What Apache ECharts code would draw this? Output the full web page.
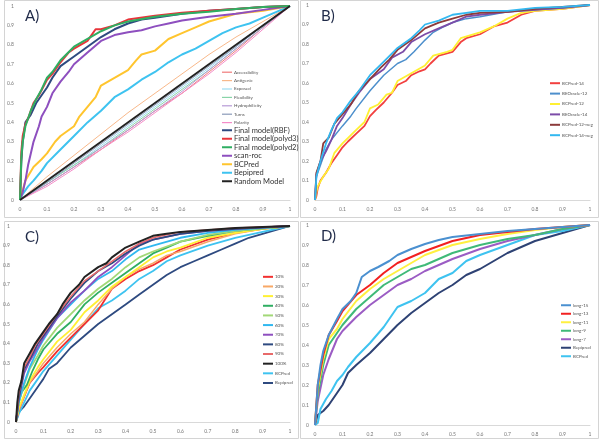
<!DOCTYPE html>
<html><head><meta charset="utf-8">
<script src="https://cdn.jsdelivr.net/npm/echarts@6/dist/echarts.min.js"></script>
<style>html,body{margin:0;padding:0;background:#fff}#c{width:600px;height:441px}</style>
</head><body><div id="c"></div>
<script>
// ---- Panel A ----
const a_acc=[[0,0],[0.1,0.08],[0.2,0.17],[0.3,0.26],[0.4,0.36],[0.5,0.46],[0.6,0.55],[0.7,0.66],[0.8,0.77],[0.9,0.89],[1,1]];
const a_ant=[[0,0],[0.1,0.12],[0.2,0.23],[0.3,0.34],[0.4,0.45],[0.5,0.55],[0.6,0.65],[0.7,0.75],[0.8,0.84],[0.9,0.92],[1,1]];
const a_exp=[[0,0],[0.1,0.09],[0.2,0.18],[0.3,0.28],[0.4,0.38],[0.5,0.48],[0.6,0.58],[0.7,0.68],[0.8,0.79],[0.9,0.9],[1,1]];
const a_flex=[[0,0],[0.1,0.09],[0.2,0.18],[0.3,0.27],[0.4,0.37],[0.5,0.47],[0.6,0.57],[0.7,0.67],[0.8,0.78],[0.9,0.89],[1,1]];
const a_hyd=[[0,0],[0.1,0.08],[0.2,0.17],[0.3,0.27],[0.4,0.36],[0.5,0.46],[0.6,0.56],[0.7,0.67],[0.8,0.78],[0.9,0.89],[1,1]];
const a_turn=[[0,0],[0.1,0.09],[0.2,0.19],[0.3,0.29],[0.4,0.39],[0.5,0.49],[0.6,0.59],[0.7,0.69],[0.8,0.79],[0.9,0.9],[1,1]];
const a_pol=[[0,0],[0.1,0.07],[0.2,0.16],[0.3,0.26],[0.4,0.35],[0.5,0.45],[0.6,0.55],[0.7,0.65],[0.8,0.76],[0.9,0.88],[1,1]];
const a_rbf=[[0,0],[0.005,0.2],[0.01,0.3],[0.02,0.4],[0.04,0.44],[0.06,0.5],[0.08,0.54],[0.1,0.58],[0.12,0.63],[0.15,0.69],[0.2,0.74],[0.25,0.79],[0.3,0.84],[0.35,0.88],[0.4,0.91],[0.45,0.93],[0.5,0.94],[0.6,0.96],[0.7,0.975],[0.8,0.985],[0.9,0.995],[1,1]];
const a_p3=[[0,0],[0.005,0.25],[0.01,0.33],[0.02,0.39],[0.03,0.42],[0.05,0.5],[0.07,0.54],[0.1,0.62],[0.12,0.65],[0.15,0.71],[0.18,0.76],[0.2,0.78],[0.25,0.82],[0.28,0.88],[0.3,0.88],[0.35,0.9],[0.4,0.93],[0.5,0.95],[0.6,0.965],[0.7,0.975],[0.8,0.985],[0.9,0.995],[1,1]];
const a_p2=[[0,0],[0.005,0.22],[0.01,0.3],[0.02,0.38],[0.04,0.46],[0.06,0.52],[0.08,0.57],[0.1,0.63],[0.12,0.66],[0.15,0.72],[0.2,0.79],[0.25,0.83],[0.3,0.87],[0.35,0.9],[0.4,0.92],[0.5,0.945],[0.6,0.96],[0.7,0.97],[0.8,0.985],[0.9,0.995],[1,1]];
const a_scan=[[0,0],[0.01,0.04],[0.02,0.1],[0.03,0.18],[0.04,0.24],[0.05,0.3],[0.07,0.38],[0.08,0.43],[0.1,0.48],[0.12,0.55],[0.15,0.61],[0.18,0.66],[0.2,0.7],[0.25,0.76],[0.3,0.82],[0.35,0.85],[0.4,0.865],[0.45,0.875],[0.5,0.895],[0.55,0.91],[0.6,0.925],[0.7,0.945],[0.8,0.96],[0.9,0.98],[1,1]];
const a_bcp=[[0,0],[0.01,0.05],[0.02,0.1],[0.05,0.17],[0.08,0.21],[0.1,0.24],[0.13,0.3],[0.15,0.33],[0.2,0.38],[0.22,0.43],[0.25,0.48],[0.28,0.53],[0.3,0.59],[0.35,0.63],[0.4,0.67],[0.43,0.72],[0.45,0.75],[0.5,0.77],[0.55,0.83],[0.6,0.86],[0.65,0.89],[0.7,0.92],[0.8,0.96],[0.9,0.975],[1,1]];
const a_bepi=[[0,0],[0.01,0.03],[0.03,0.07],[0.05,0.1],[0.08,0.15],[0.1,0.19],[0.15,0.26],[0.2,0.33],[0.25,0.4],[0.3,0.46],[0.35,0.53],[0.4,0.57],[0.45,0.62],[0.5,0.66],[0.55,0.71],[0.6,0.75],[0.65,0.78],[0.7,0.82],[0.75,0.86],[0.8,0.89],[0.85,0.91],[0.9,0.94],[0.95,0.97],[1,1]];
const a_rand=[[0,0],[1,1]];
// ---- Panel B ----
const b_bcp14=[[0,0],[0.005,0.02],[0.01,0.06],[0.02,0.1],[0.04,0.14],[0.06,0.19],[0.08,0.23],[0.1,0.27],[0.12,0.3],[0.15,0.34],[0.18,0.38],[0.2,0.43],[0.22,0.46],[0.25,0.5],[0.28,0.55],[0.3,0.59],[0.33,0.61],[0.35,0.64],[0.38,0.66],[0.4,0.67],[0.42,0.7],[0.45,0.74],[0.5,0.76],[0.53,0.81],[0.55,0.83],[0.6,0.85],[0.65,0.89],[0.7,0.91],[0.75,0.95],[0.8,0.97],[0.9,0.98],[1,1]];
const b_beo12=[[0,0],[0.005,0.12],[0.02,0.18],[0.04,0.26],[0.06,0.31],[0.1,0.38],[0.13,0.43],[0.15,0.47],[0.2,0.56],[0.25,0.64],[0.3,0.7],[0.33,0.72],[0.36,0.76],[0.4,0.82],[0.43,0.86],[0.47,0.89],[0.5,0.91],[0.55,0.93],[0.6,0.94],[0.7,0.965],[0.8,0.975],[0.9,0.985],[1,1]];
const b_bcp12=[[0,0],[0.005,0.04],[0.01,0.07],[0.03,0.12],[0.05,0.16],[0.07,0.24],[0.1,0.29],[0.15,0.36],[0.18,0.4],[0.2,0.47],[0.23,0.49],[0.26,0.54],[0.28,0.55],[0.3,0.61],[0.35,0.65],[0.4,0.69],[0.43,0.74],[0.48,0.76],[0.5,0.77],[0.53,0.83],[0.6,0.86],[0.65,0.89],[0.7,0.93],[0.75,0.96],[0.8,0.97],[0.9,0.98],[1,1]];
const b_beo14=[[0,0],[0.005,0.13],[0.02,0.2],[0.04,0.25],[0.06,0.31],[0.08,0.38],[0.1,0.42],[0.13,0.49],[0.16,0.55],[0.2,0.62],[0.25,0.67],[0.28,0.73],[0.32,0.76],[0.35,0.81],[0.4,0.85],[0.45,0.88],[0.5,0.91],[0.55,0.94],[0.6,0.95],[0.7,0.965],[0.8,0.975],[0.9,0.985],[1,1]];
const b_bcp12n=[[0,0],[0.005,0.14],[0.02,0.2],[0.03,0.29],[0.05,0.32],[0.07,0.39],[0.1,0.44],[0.13,0.49],[0.16,0.56],[0.2,0.62],[0.24,0.68],[0.27,0.72],[0.3,0.77],[0.35,0.82],[0.4,0.88],[0.45,0.91],[0.5,0.93],[0.55,0.95],[0.6,0.96],[0.7,0.965],[0.8,0.98],[0.9,0.99],[1,1]];
const b_bcp14n=[[0,0],[0.005,0.12],[0.02,0.2],[0.04,0.29],[0.06,0.36],[0.08,0.42],[0.1,0.45],[0.13,0.51],[0.16,0.56],[0.2,0.64],[0.25,0.71],[0.3,0.78],[0.35,0.83],[0.38,0.87],[0.4,0.9],[0.45,0.92],[0.5,0.95],[0.55,0.96],[0.6,0.97],[0.7,0.97],[0.8,0.985],[0.9,0.99],[1,1]];
// ---- Panel C ----
const c_10=[[0,0],[0.01,0.06],[0.03,0.13],[0.05,0.2],[0.08,0.25],[0.1,0.28],[0.15,0.36],[0.2,0.43],[0.25,0.5],[0.3,0.57],[0.35,0.68],[0.4,0.73],[0.45,0.77],[0.5,0.8],[0.55,0.84],[0.6,0.88],[0.7,0.93],[0.8,0.965],[0.9,0.985],[1,1]];
const c_20=[[0,0],[0.01,0.06],[0.03,0.13],[0.05,0.2],[0.08,0.26],[0.1,0.3],[0.15,0.38],[0.2,0.45],[0.25,0.51],[0.3,0.6],[0.35,0.68],[0.4,0.74],[0.45,0.78],[0.5,0.81],[0.55,0.85],[0.6,0.87],[0.7,0.92],[0.8,0.96],[0.9,0.985],[1,1]];
const c_30=[[0,0],[0.01,0.07],[0.03,0.14],[0.05,0.21],[0.08,0.28],[0.1,0.32],[0.15,0.41],[0.2,0.47],[0.25,0.56],[0.3,0.62],[0.35,0.69],[0.4,0.74],[0.45,0.79],[0.5,0.84],[0.55,0.87],[0.6,0.89],[0.7,0.94],[0.8,0.965],[0.9,0.985],[1,1]];
const c_40=[[0,0],[0.01,0.1],[0.02,0.15],[0.04,0.19],[0.06,0.26],[0.08,0.32],[0.1,0.37],[0.15,0.45],[0.2,0.51],[0.25,0.6],[0.3,0.66],[0.35,0.71],[0.4,0.76],[0.45,0.81],[0.5,0.86],[0.55,0.89],[0.6,0.92],[0.7,0.95],[0.8,0.975],[1,1]];
const c_50=[[0,0],[0.01,0.1],[0.03,0.19],[0.05,0.27],[0.08,0.34],[0.1,0.39],[0.15,0.48],[0.2,0.55],[0.25,0.62],[0.3,0.68],[0.35,0.73],[0.4,0.79],[0.45,0.84],[0.5,0.87],[0.6,0.92],[0.7,0.955],[0.8,0.975],[1,1]];
const c_60=[[0,0],[0.01,0.1],[0.03,0.2],[0.05,0.28],[0.08,0.37],[0.1,0.42],[0.15,0.53],[0.2,0.6],[0.25,0.67],[0.3,0.73],[0.35,0.77],[0.4,0.83],[0.45,0.88],[0.5,0.9],[0.6,0.94],[0.7,0.965],[0.8,0.98],[1,1]];
const c_70=[[0,0],[0.01,0.12],[0.03,0.25],[0.05,0.31],[0.08,0.38],[0.1,0.43],[0.15,0.53],[0.2,0.61],[0.25,0.67],[0.3,0.74],[0.35,0.79],[0.4,0.85],[0.45,0.91],[0.5,0.93],[0.6,0.96],[0.7,0.975],[0.8,0.985],[1,1]];
const c_80=[[0,0],[0.01,0.12],[0.03,0.27],[0.05,0.32],[0.08,0.4],[0.1,0.44],[0.15,0.54],[0.2,0.63],[0.25,0.71],[0.3,0.77],[0.35,0.81],[0.4,0.86],[0.45,0.9],[0.5,0.93],[0.6,0.96],[0.7,0.975],[0.8,0.985],[1,1]];
const c_90=[[0,0],[0.01,0.14],[0.03,0.28],[0.05,0.33],[0.07,0.39],[0.1,0.45],[0.13,0.51],[0.15,0.55],[0.2,0.64],[0.25,0.72],[0.3,0.77],[0.35,0.82],[0.4,0.87],[0.45,0.91],[0.5,0.94],[0.6,0.97],[0.7,0.98],[0.8,0.99],[1,1]];
const c_100=[[0,0],[0.005,0.1],[0.01,0.16],[0.02,0.21],[0.03,0.3],[0.05,0.35],[0.07,0.4],[0.1,0.46],[0.12,0.5],[0.15,0.55],[0.17,0.6],[0.2,0.66],[0.23,0.7],[0.25,0.74],[0.3,0.79],[0.33,0.81],[0.35,0.84],[0.4,0.89],[0.45,0.92],[0.5,0.95],[0.55,0.96],[0.6,0.97],[0.7,0.98],[0.8,0.99],[0.9,0.995],[1,1]];
const c_bcp=[[0,0],[0.01,0.04],[0.03,0.1],[0.05,0.16],[0.08,0.22],[0.1,0.26],[0.15,0.34],[0.2,0.42],[0.25,0.5],[0.3,0.58],[0.35,0.62],[0.4,0.67],[0.45,0.73],[0.5,0.77],[0.55,0.82],[0.6,0.85],[0.7,0.9],[0.8,0.94],[0.9,0.97],[1,1]];
const c_bepi=[[0,0],[0.01,0.05],[0.03,0.08],[0.05,0.12],[0.08,0.18],[0.1,0.22],[0.12,0.27],[0.15,0.3],[0.2,0.38],[0.25,0.44],[0.3,0.5],[0.35,0.55],[0.4,0.6],[0.45,0.65],[0.5,0.7],[0.55,0.75],[0.6,0.79],[0.65,0.82],[0.7,0.85],[0.75,0.88],[0.8,0.91],[0.85,0.94],[0.9,0.96],[0.95,0.98],[1,1]];
// ---- Panel D ----
const d_15=[[0,0],[0.005,0.1],[0.01,0.2],[0.02,0.3],[0.03,0.37],[0.05,0.45],[0.08,0.53],[0.1,0.58],[0.13,0.62],[0.15,0.66],[0.17,0.74],[0.2,0.77],[0.23,0.79],[0.27,0.82],[0.3,0.85],[0.35,0.88],[0.4,0.905],[0.45,0.925],[0.5,0.94],[0.6,0.955],[0.7,0.97],[0.8,0.98],[0.9,0.99],[1,1]];
const d_13=[[0,0],[0.005,0.1],[0.01,0.2],[0.03,0.35],[0.05,0.45],[0.08,0.52],[0.1,0.57],[0.15,0.65],[0.2,0.7],[0.25,0.76],[0.3,0.81],[0.35,0.84],[0.4,0.87],[0.45,0.895],[0.5,0.92],[0.6,0.95],[0.7,0.965],[0.8,0.98],[0.9,0.99],[1,1]];
const d_11=[[0,0],[0.005,0.1],[0.01,0.18],[0.03,0.33],[0.05,0.43],[0.08,0.48],[0.1,0.53],[0.15,0.62],[0.2,0.68],[0.25,0.73],[0.3,0.77],[0.35,0.81],[0.4,0.85],[0.45,0.875],[0.5,0.9],[0.6,0.93],[0.7,0.955],[0.8,0.975],[0.9,0.99],[1,1]];
const d_9=[[0,0],[0.005,0.08],[0.01,0.15],[0.03,0.3],[0.05,0.4],[0.08,0.46],[0.1,0.5],[0.15,0.58],[0.2,0.64],[0.25,0.7],[0.3,0.74],[0.35,0.78],[0.4,0.8],[0.45,0.83],[0.5,0.86],[0.6,0.9],[0.7,0.93],[0.8,0.95],[0.9,0.98],[1,1]];
const d_7=[[0,0],[0.005,0.06],[0.01,0.12],[0.03,0.25],[0.05,0.33],[0.08,0.43],[0.1,0.47],[0.15,0.54],[0.2,0.6],[0.25,0.65],[0.3,0.7],[0.35,0.73],[0.4,0.77],[0.45,0.8],[0.5,0.83],[0.6,0.88],[0.7,0.92],[0.8,0.95],[0.9,0.98],[1,1]];
const d_bepi=[[0,0],[0.01,0.05],[0.03,0.07],[0.05,0.1],[0.08,0.16],[0.1,0.2],[0.12,0.26],[0.15,0.3],[0.2,0.36],[0.25,0.43],[0.3,0.5],[0.35,0.56],[0.4,0.61],[0.45,0.66],[0.5,0.7],[0.55,0.75],[0.6,0.78],[0.65,0.82],[0.7,0.86],[0.75,0.89],[0.8,0.92],[0.85,0.94],[0.9,0.96],[0.95,0.98],[1,1]];
const d_bcp=[[0,0],[0.01,0.01],[0.02,0.08],[0.04,0.13],[0.06,0.17],[0.08,0.22],[0.1,0.25],[0.12,0.29],[0.15,0.34],[0.2,0.41],[0.25,0.49],[0.3,0.59],[0.35,0.62],[0.4,0.66],[0.45,0.73],[0.5,0.76],[0.55,0.82],[0.6,0.85],[0.7,0.9],[0.8,0.95],[0.9,0.97],[1,1]];

const axisTicks=[0,0.1,0.2,0.3,0.4,0.5,0.6,0.7,0.8,0.9,1];

const panels=[
 {key:'A',grid:{left:20,top:6,width:270,height:194}},
 {key:'B',grid:{left:315,top:5,width:275,height:195}},
 {key:'C',grid:{left:15,top:226,width:275,height:196}},
 {key:'D',grid:{left:315,top:225,width:275,height:200}}
];
// [panel, name, data, color, width]
const defs=[
 [0,'Accessibility',a_acc,'#f07a7a',1],
 [0,'Antigenic',a_ant,'#f8b88a',1],
 [0,'Exposed',a_exp,'#9cdcf2',1],
 [0,'Flexibility',a_flex,'#88d4a8',1],
 [0,'Hydrophilicity',a_hyd,'#b79ad6',1],
 [0,'Turns',a_turn,'#8a9ab8',1],
 [0,'Polarity',a_pol,'#f48cc8',1],
 [0,'Bepipred',a_bepi,'#3ec3f0',2],
 [0,'BCPred',a_bcp,'#ffc52e',2],
 [0,'scan-roc',a_scan,'#8e4fbf',2],
 [0,'Final model(RBF)',a_rbf,'#2e4a80',2],
 [0,'Final model(polyd3)',a_p3,'#e8343a',2],
 [0,'Final model(polyd2)',a_p2,'#2fae62',2],
 [0,'Random Model',a_rand,'#222222',2],
 [1,'BCPred-14',b_bcp14,'#f2403f',1.8],
 [1,'BCPred-12',b_bcp12,'#fff033',1.8],
 [1,'BEOracle-12',b_beo12,'#4d8fcc',1.5],
 [1,'BEOracle-14',b_beo14,'#7c4ca8',1.8],
 [1,'BCPred-12-neg',b_bcp12n,'#8c3b3b',1.8],
 [1,'BCPred-14-neg',b_bcp14n,'#33b8f0',1.8],
 [2,'Bepipred',c_bepi,'#2e4a80',1.8],
 [2,'BCPred',c_bcp,'#3ec3f0',1.8],
 [2,'10%',c_10,'#f2302f',1.8],
 [2,'20%',c_20,'#f8a866',1.5],
 [2,'30%',c_30,'#fff033',1.8],
 [2,'40%',c_40,'#2fae62',1.8],
 [2,'50%',c_50,'#a2d877',1.8],
 [2,'60%',c_60,'#30b8f0',1.8],
 [2,'70%',c_70,'#8e4fbf',1.8],
 [2,'80%',c_80,'#2e4a80',1.8],
 [2,'90%',c_90,'#e86a6a',1.5],
 [2,'100%',c_100,'#222222',2],
 [3,'Bepipred',d_bepi,'#2e4274',2],
 [3,'BCPred',d_bcp,'#3ec3f0',2],
 [3,'long-7',d_7,'#9b5cc4',2],
 [3,'long-9',d_9,'#3fba78',2],
 [3,'long-11',d_11,'#fff040',2],
 [3,'long-13',d_13,'#f22020',2],
 [3,'long-15',d_15,'#4a90d0',2]
];
const series=defs.map(d=>({
 name:panels[d[0]].key+':'+d[1],type:'line',xAxisIndex:d[0],yAxisIndex:d[0],data:d[2],
 showSymbol:false,symbol:'none',animation:false,
 lineStyle:{color:d[3],width:d[4]},itemStyle:{color:d[3]}
}));
const fmt=n=>n.slice(2);
const lg=(key,names,left,top,lh,fs,ih,col,iw)=>({
 orient:'vertical',left:left,top:top,padding:0,itemGap:0,itemWidth:iw||10,itemHeight:ih,icon:'rect',
 data:names.map(n=>key+':'+n),formatter:fmt,selectedMode:false,
 textStyle:{fontSize:fs,lineHeight:lh,color:col,fontFamily:'Lato',padding:[0,0,0,-3]}
});
const legends=[
 lg('A',['Accessibility','Antigenic','Exposed','Flexibility','Hydrophilicity','Turns','Polarity'],222,68,8.4,4.5,1.2,'#555'),
 lg('A',['Final model(RBF)','Final model(polyd3)','Final model(polyd2)','scan-roc','BCPred','Bepipred','Random Model'],222,126,8.5,7.5,2,'#333'),
 lg('B',['BCPred-14','BEOracle-12','BCPred-12','BEOracle-14','BCPred-12-neg','BCPred-14-neg'],550,78,10.4,4.5,2,'#555'),
 lg('C',['10%','20%','30%','40%','50%','60%','70%','80%','90%','100%','BCPred','Bepipred'],263,272,9.65,4.5,2,'#555'),
 lg('D',['long-15','long-13','long-11','long-9','long-7','Bepipred','BCPred'],561,301,8.5,4.5,2,'#555')
];
const lab={fontSize:5,color:'#777',fontFamily:'Lato'};
const option={
 backgroundColor:'#fff',animation:false,
 grid:panels.map(p=>p.grid),
 xAxis:panels.map((p,i)=>({type:'value',gridIndex:i,min:axisTicks[0],max:axisTicks[10],interval:0.1,
  axisLine:{lineStyle:{color:'#d9d9d9'}},axisTick:{show:false},splitLine:{show:false},
  axisLabel:Object.assign({margin:7},lab)})),
 yAxis:panels.map((p,i)=>({type:'value',gridIndex:i,min:axisTicks[0],max:axisTicks[10],interval:0.1,
  axisLine:{show:false},axisTick:{show:false},splitLine:{show:false},
  axisLabel:Object.assign({margin:6},lab)})),
 legend:legends,
 series:series,
 graphic:[
  {type:'rect',shape:{x:4.5,y:0.5,width:294,height:217},style:{fill:'none',stroke:'#d4d4d4',lineWidth:1},silent:true},
  {type:'rect',shape:{x:300.5,y:0.5,width:298,height:217},style:{fill:'none',stroke:'#d4d4d4',lineWidth:1},silent:true},
  {type:'rect',shape:{x:4.5,y:221.5,width:294,height:217},style:{fill:'none',stroke:'#d4d4d4',lineWidth:1},silent:true},
  {type:'rect',shape:{x:300.5,y:221.5,width:298,height:217},style:{fill:'none',stroke:'#d4d4d4',lineWidth:1},silent:true},
  {type:'text',left:25,top:9,style:{text:'A)',fontSize:15,fill:'#1f2a48',fontFamily:'Lato'}},
  {type:'text',left:321,top:9,style:{text:'B)',fontSize:15,fill:'#1f2a48',fontFamily:'Lato'}},
  {type:'text',left:25,top:230,style:{text:'C)',fontSize:15,fill:'#1f2a48',fontFamily:'Lato'}},
  {type:'text',left:321,top:229,style:{text:'D)',fontSize:15,fill:'#1f2a48',fontFamily:'Lato'}}
 ]
};
const chart=echarts.init(document.getElementById('c'),null,{renderer:'canvas'});
chart.setOption(option);
</script></body></html>
